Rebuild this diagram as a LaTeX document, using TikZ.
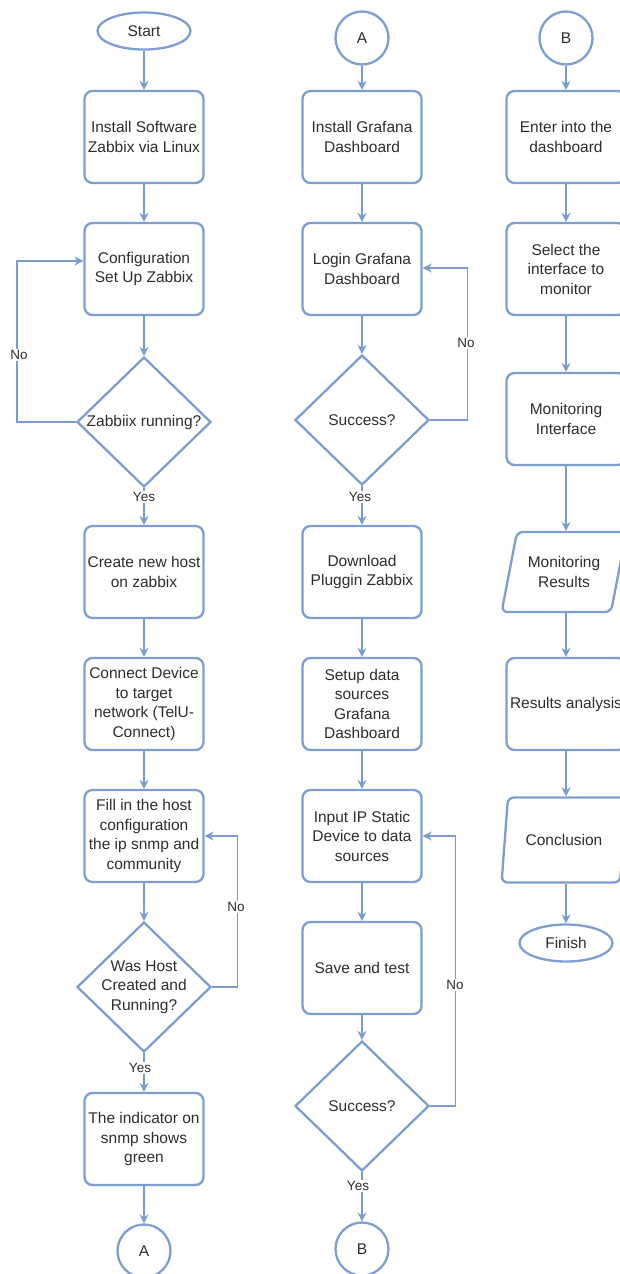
\documentclass[tikz,border=0pt]{standalone}
\usepackage{fontspec}
\setmainfont{Liberation Sans}
\usetikzlibrary{shapes.geometric,arrows.meta}
\definecolor{bd}{HTML}{7E9ED0}
\definecolor{ln}{HTML}{7A9BCE}
\definecolor{tx}{HTML}{2E2E2E}
\begin{document}
\begin{tikzpicture}[x=1pt,y=-1pt,
  every node/.style={text=tx, font=\fontsize{15.5}{19.5}\selectfont},
  proc/.style={draw=bd, line width=2.3pt, rounded corners=8pt, minimum width=119pt, minimum height=92pt, align=center, inner sep=0pt},
  term/.style={draw=bd, line width=2.3pt, ellipse, minimum width=93pt, minimum height=37pt, inner sep=0pt},
  conn/.style={draw=bd, line width=2.3pt, circle, minimum size=53pt, inner sep=0pt},
  dec/.style={draw=bd, line width=2.3pt, diamond, minimum width=134pt, minimum height=130pt, inner sep=0pt},
  dtext/.style={align=center, inner sep=0pt},
  io/.style={draw=bd, line width=2.3pt, trapezium, trapezium left angle=69, trapezium right angle=111, trapezium stretches=true, rounded corners=6pt, minimum width=125pt, minimum height=80pt, align=center, inner sep=0pt},
  arr/.style={draw=ln, line width=1.3pt, -{Stealth[length=9pt,width=9pt,inset=3pt]}},
  lbl/.style={fill=white, inner sep=1.5pt, font=\fontsize{13.5}{16}\selectfont}
]
\useasboundingbox (0,0) rectangle (620,1274);
\fill[white] (0,0) rectangle (620,1274);

% ---------- column 1 ----------
\node[term] (s) at (144,31) {Start};
\node[proc] (a1) at (144,137) {Install Software\\Zabbix via Linux};
\node[proc] (a2) at (144,269) {Configuration\\Set Up Zabbix};
\node[dec] (d1) at (144,422) {};
\node[dtext] (d1t) at (144,422) {Zabbiix running?};
\node[proc] (a3) at (144,572) {Create new host\\on zabbix};
\node[proc] (a4) at (144,704) {Connect Device\\to target\\network (TelU-\\Connect)};
\node[proc] (a5) at (144,836) {Fill in the host\\configuration\\the ip snmp and\\community};
\node[dec] (d2) at (144,987) {};
\node[dtext] (d2t) at (144,987) {Was Host\\Created and\\Running?};
\node[proc] (a6) at (144,1139) {The indicator on\\snmp shows\\green};
\node[conn] (ca) at (144,1251) {A};

\draw[arr] (s) -- (a1);
\draw[arr] (a1) -- (a2);
\draw[arr] (a2) -- (d1);
\draw[arr] (d1) -- (a3);
\draw[arr] (a3) -- (a4);
\draw[arr] (a4) -- (a5);
\draw[arr] (a5) -- (d2);
\draw[arr] (d2) -- (a6);
\draw[arr] (a6) -- (ca);
\draw[arr] (d1.west) -- ++(-59,0) |- ([yshift=8pt]a2.west);
\draw[arr] (d2.east) -- ++(25,0) |- (a5.east);
\node[lbl] (y1) at (144,497) {Yes};
\node[lbl] (y2) at (140,1068) {Yes};
\node[lbl] (n1) at (19,355) {No};
\node[lbl] (n2) at (236,907) {No};

% ---------- column 2 ----------
\node[conn] (ca2) at (362,38) {A};
\node[proc] (b1) at (362,137) {Install Grafana\\Dashboard};
\node[proc] (b2) at (362,269) {Login Grafana\\Dashboard};
\node[dec] (d3) at (362,420) {};
\node[dtext] (d3t) at (362,420) {Success?};
\node[proc] (b3) at (362,572) {Download\\Pluggin Zabbix};
\node[proc] (b4) at (362,704) {Setup data\\sources\\Grafana\\Dashboard};
\node[proc] (b5) at (362,836) {Input IP Static\\Device to data\\sources};
\node[proc] (b6) at (362,968) {Save and test};
\node[dec] (d4) at (362,1106) {};
\node[dtext] (d4t) at (362,1106) {Success?};
\node[conn] (cb) at (362,1249) {B};

\draw[arr] (ca2) -- (b1);
\draw[arr] (b1) -- (b2);
\draw[arr] (b2) -- (d3);
\draw[arr] (d3) -- (b3);
\draw[arr] (b3) -- (b4);
\draw[arr] (b4) -- (b5);
\draw[arr] (b5) -- (b6);
\draw[arr] (b6) -- (d4);
\draw[arr] (d4) -- (cb);
\draw[arr] (d3.east) -- ++(37,0) |- ([yshift=1pt]b2.east);
\draw[arr] (d4.east) -- ++(25,0) |- (b5.east);
\node[lbl] (y3) at (360,497) {Yes};
\node[lbl] (y4) at (358,1186) {Yes};
\node[lbl] (n3) at (466,343) {No};
\node[lbl] (n4) at (455,985) {No};

% ---------- column 3 ----------
\node[conn] (cb2) at (566,38) {B};
\node[proc] (c1) at (566,137) {Enter into the\\dashboard};
\node[proc] (c2) at (566,269) {Select the\\interface to\\monitor};
\node[proc] (c3) at (566,419) {Monitoring\\Interface};
\node[io] (c4) at (564,572) {Monitoring\\Results};
\node[proc] (c5) at (566,704) {Results analysis};
\node[io, minimum height=85pt] (c6) at (564,840) {Conclusion};
\node[term] (f) at (566,943) {Finish};

\draw[arr] (cb2) -- (c1);
\draw[arr] (c1) -- (c2);
\draw[arr] (c2) -- (c3);
\draw[arr] (c3) -- (c4.north -| c3.south);
\draw[arr] (c4.south -| c5.north) -- (c5);
\draw[arr] (c5) -- (c6.north -| c5.south);
\draw[arr] (c6.south -| f.north) -- (f);
\end{tikzpicture}
\end{document}
